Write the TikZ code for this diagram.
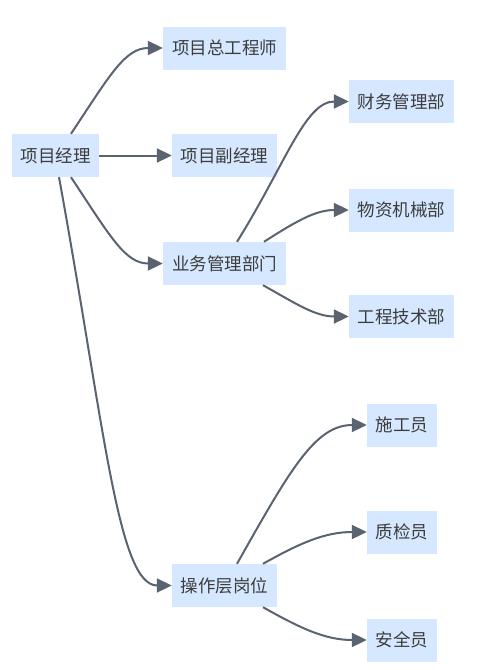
\documentclass[tikz,border=0pt]{standalone}
\usepackage{fontspec}
\setmainfont{Noto Sans CJK SC}
\usetikzlibrary{arrows.meta}
\definecolor{boxfill}{RGB}{214,232,255}
\definecolor{edgecol}{RGB}{90,99,112}
\definecolor{txtcol}{RGB}{60,60,60}
\begin{document}
\begin{tikzpicture}[x=1pt,y=-1pt,
  box/.style={fill=boxfill,draw=none,inner sep=0pt,minimum height=43pt,text=txtcol,font=\fontsize{17.5}{19}\selectfont},
  w3/.style={box,minimum width=70pt},
  w4/.style={box,minimum width=87pt},
  w5/.style={box,minimum width=105pt},
  w6/.style={box,minimum width=123pt},
  edge/.style={draw=edgecol,line width=2pt,-{Triangle[length=15pt,width=14pt]}}]
\useasboundingbox[fill=white] (0,0) rectangle (481,670);
\node[w4] (pm) at (55.5,155.5) {项目经理};
\node[w6] (zg) at (224.5,48) {项目总工程师};
\node[w5] (fj) at (224.5,155.5) {项目副经理};
\node[w6] (yw) at (224.5,263.5) {业务管理部门};
\node[w5] (cz) at (224.5,585.5) {操作层岗位};
\node[w5] (cw) at (401.5,101.5) {财务管理部};
\node[w5] (wz) at (401.5,210) {物资机械部};
\node[w5] (gc) at (401.5,316.5) {工程技术部};
\node[w3] (sg) at (402,425) {施工员};
\node[w3] (zj) at (402,532) {质检员};
\node[w3] (aq) at (402,640) {安全员};
\draw[edge] ([xshift=15.5pt]pm.north) .. controls (110,75) and (125,48) .. (zg.west);
\draw[edge] (pm.east) -- (fj.west);
\draw[edge] ([xshift=15.5pt]pm.south) .. controls (110,236) and (125,263.5) .. (yw.west);
\draw[edge] ([xshift=3.5pt]pm.south) .. controls (105,430) and (118,585.5) .. (cz.west);
\draw[edge] ([xshift=12.5pt]yw.north) .. controls (285,165) and (305,101.5) .. (cw.west);
\draw[edge] ([xshift=39.5pt]yw.north) .. controls (295,222) and (315,210) .. (wz.west);
\draw[edge] ([xshift=38.5pt]yw.south) .. controls (295,303) and (315,316.5) .. (gc.west);
\draw[edge] ([xshift=12.5pt]cz.north) .. controls (290,470) and (315,425) .. (sg.west);
\draw[edge] ([xshift=38.5pt]cz.north) .. controls (300,543) and (325,532) .. (zj.west);
\draw[edge] ([xshift=38.5pt]cz.south) .. controls (300,628) and (325,640) .. (aq.west);
\end{tikzpicture}
\end{document}
